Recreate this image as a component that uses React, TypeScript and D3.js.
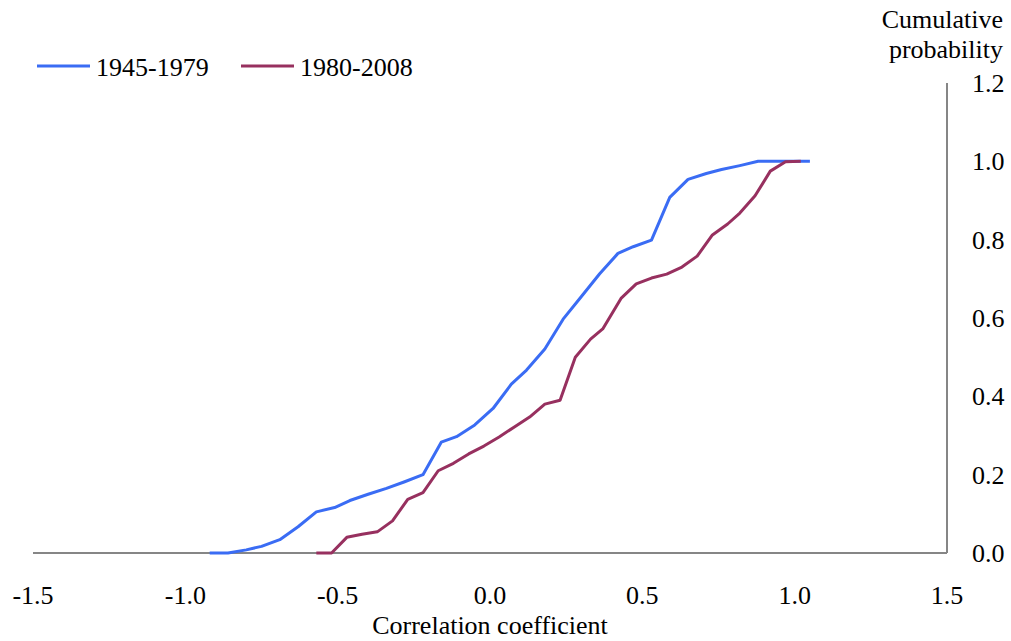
import React from "react";
import * as d3 from "d3";

const seriesNames = ["1945-1979", "1980-2008"];
const seriesColors = ["#3a6cf4", "#97305f"];

const blueX = [-0.92, -0.86, -0.80, -0.75, -0.69, -0.63, -0.57, -0.51, -0.46, -0.40, -0.34, -0.28, -0.22, -0.16, -0.11, -0.05, 0.01, 0.07, 0.12, 0.18, 0.24, 0.30, 0.36, 0.42, 0.47, 0.53, 0.59, 0.65, 0.71, 0.76, 0.82, 0.88, 0.93, 0.99, 1.05];
const blueY = [0, 0, 0.008, 0.017, 0.034, 0.067, 0.105, 0.116, 0.134, 0.15, 0.165, 0.182, 0.2, 0.283, 0.297, 0.327, 0.369, 0.431, 0.467, 0.521, 0.597, 0.655, 0.713, 0.765, 0.782, 0.799, 0.908, 0.954, 0.969, 0.979, 0.989, 1.0, 1.0, 1.0, 1.0];

const redX = [-0.57, -0.52, -0.47, -0.42, -0.37, -0.32, -0.27, -0.22, -0.17, -0.12, -0.07, -0.02, 0.03, 0.08, 0.13, 0.18, 0.23, 0.28, 0.33, 0.37, 0.43, 0.48, 0.53, 0.58, 0.63, 0.68, 0.73, 0.78, 0.82, 0.87, 0.92, 0.97, 1.02];
const redY = [0, 0, 0.04, 0.048, 0.054, 0.082, 0.137, 0.154, 0.21, 0.229, 0.253, 0.273, 0.296, 0.322, 0.347, 0.38, 0.39, 0.5, 0.546, 0.572, 0.65, 0.687, 0.702, 0.712, 0.73, 0.758, 0.812, 0.84, 0.868, 0.912, 0.975, 0.999, 1.0];

const xTicks = [-1.5, -1.0, -0.5, 0.0, 0.5, 1.0, 1.5];
const yTicks = [0.0, 0.2, 0.4, 0.6, 0.8, 1.0, 1.2];

const xTitle = "Correlation coefficient";
const yTitle = ["Cumulative", "probability"];

export default function App() {
  const W = 1011, H = 641;
  const x = d3.scaleLinear().domain([-1.5, 1.5]).range([33, 947]);
  const y = d3.scaleLinear().domain([0, 1.2]).range([553, 83]);
  const line = d3.line<[number, number]>().x(d => x(d[0])).y(d => y(d[1]));
  const series = [
    blueX.map((v, i) => [v, blueY[i]] as [number, number]),
    redX.map((v, i) => [v, redY[i]] as [number, number]),
  ];
  const font = "'Liberation Serif', 'Times New Roman', serif";
  const fs = 26;
  const legendX = [37, 241];
  return (
    <svg width={W} height={H} style={{ position: "absolute", left: 0, top: 0, background: "#fff", fontFamily: font }}>
      <rect width={W} height={H} fill="#fff" />
      <line x1={x(-1.5)} x2={x(1.5)} y1={y(0)} y2={y(0)} stroke="#868686" strokeWidth={2} />
      <line x1={x(1.5)} x2={x(1.5)} y1={y(0)} y2={y(1.2)} stroke="#868686" strokeWidth={2} />
      {xTicks.map(t => (
        <text key={t} x={x(t)} y={604} textAnchor="middle" fontSize={fs} fill="#000">{t.toFixed(1)}</text>
      ))}
      {yTicks.map(t => (
        <text key={t} x={972} y={y(t)} dy="0.35em" textAnchor="start" fontSize={fs} fill="#000">{t.toFixed(1)}</text>
      ))}
      <text x={x(0)} y={634} textAnchor="middle" fontSize={fs} fill="#000">{xTitle}</text>
      {yTitle.map((t, i) => (
        <text key={t} x={1003} y={28 + i * 30} textAnchor="end" fontSize={fs} fill="#000">{t}</text>
      ))}
      {series.map((s, i) => (
        <path key={i} d={line(s) || ""} fill="none" stroke={seriesColors[i]} strokeWidth={3} strokeLinejoin="round" />
      ))}
      {seriesNames.map((n, i) => (
        <g key={n}>
          <line x1={legendX[i]} x2={legendX[i] + 53} y1={66} y2={66} stroke={seriesColors[i]} strokeWidth={3} />
          <text x={legendX[i] + 59} y={76} fontSize={fs} fill="#000">{n}</text>
        </g>
      ))}
    </svg>
  );
}
